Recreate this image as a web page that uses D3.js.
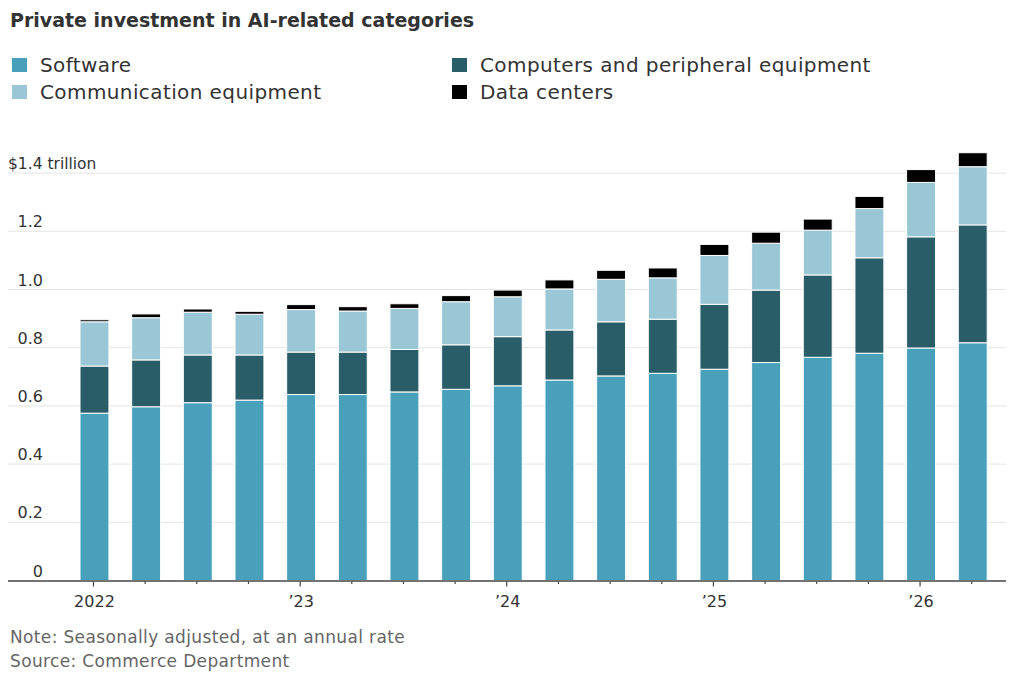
<!DOCTYPE html>
<html>
<head>
<meta charset="utf-8">
<script src="https://cdn.jsdelivr.net/npm/d3@7"></script>
<style>
  body { margin: 0; background: #fff; }
  svg { display: block; font-family: "DejaVu Sans", sans-serif; }
</style>
</head>
<body>
<div id="chart"></div>
<script>
// quarterly, 2022 Q1 .. 2026 Q2, trillions of dollars
const quarters = [
  "2022Q1", "2022Q2", "2022Q3", "2022Q4",
  "2023Q1", "2023Q2", "2023Q3", "2023Q4",
  "2024Q1", "2024Q2", "2024Q3", "2024Q4",
  "2025Q1", "2025Q2", "2025Q3", "2025Q4",
  "2026Q1", "2026Q2"
];
const software = [0.575, 0.597, 0.611, 0.620, 0.639, 0.639, 0.648, 0.657, 0.669, 0.689, 0.703, 0.712, 0.726, 0.749, 0.767, 0.781, 0.799, 0.817];
const computers = [0.162, 0.161, 0.164, 0.155, 0.146, 0.146, 0.146, 0.153, 0.169, 0.172, 0.186, 0.186, 0.223, 0.249, 0.283, 0.328, 0.382, 0.405];
const communication = [0.152, 0.145, 0.147, 0.140, 0.146, 0.141, 0.141, 0.148, 0.137, 0.141, 0.146, 0.142, 0.168, 0.161, 0.154, 0.169, 0.187, 0.200];
const dataCenters = [0.007, 0.013, 0.011, 0.010, 0.017, 0.015, 0.016, 0.021, 0.023, 0.031, 0.031, 0.034, 0.038, 0.038, 0.038, 0.042, 0.044, 0.048];

const seriesKeys = ["software", "computers", "communication", "dataCenters"];
const seriesNames = {
  software: "Software",
  computers: "Computers and peripheral equipment",
  communication: "Communication equipment",
  dataCenters: "Data centers"
};
const colors = {
  software: "#48a0bb",
  computers: "#295e68",
  communication: "#99c7d5",
  dataCenters: "#000000"
};
const yTicks = [0, 0.2, 0.4, 0.6, 0.8, 1.0, 1.2, 1.4];
const yearLabels = { "2022Q1": "2022", "2023Q1": "\u201923", "2024Q1": "\u201924", "2025Q1": "\u201925", "2026Q1": "\u201926" };

const width = 1024, height = 687;

const rows = quarters.map((q, i) => ({
  quarter: q,
  software: software[i],
  computers: computers[i],
  communication: communication[i],
  dataCenters: dataCenters[i]
}));

const svg = d3.select("#chart").append("svg")
  .attr("width", width)
  .attr("height", height);

// Title
svg.append("text")
  .attr("x", 10)
  .attr("y", 27)
  .attr("fill", "#333")
  .attr("font-size", 19)
  .attr("font-weight", "bold")
  .text("Private investment in AI-related categories");

// Legend (two columns)
const legendItems = [
  { key: "software", x: 12, y: 58 },
  { key: "communication", x: 12, y: 85 },
  { key: "computers", x: 452, y: 58 },
  { key: "dataCenters", x: 452, y: 85 }
];
const legend = svg.append("g");
legendItems.forEach((d) => {
  legend.append("rect")
    .attr("x", d.x)
    .attr("y", d.y)
    .attr("width", 15)
    .attr("height", 14)
    .attr("fill", colors[d.key]);
  legend.append("text")
    .attr("x", d.x + 28)
    .attr("y", d.y + 14)
    .attr("fill", "#333")
    .attr("font-size", 20)
    .attr("letter-spacing", 0.4)
    .text(seriesNames[d.key]);
});

// Scales
const x = d3.scaleBand()
  .domain(quarters)
  .range([61.2, 1006])
  .paddingInner(0.44)
  .paddingOuter(0.364);

const y = d3.scaleLinear()
  .domain([0, 1.4])
  .range([580.5, 173.1]);

// Gridlines
svg.append("g")
  .selectAll("line")
  .data(yTicks.filter((t) => t > 0))
  .join("line")
  .attr("x1", 8)
  .attr("x2", 1006)
  .attr("y1", (d) => y(d))
  .attr("y2", (d) => y(d))
  .attr("stroke", "#e4e4e4")
  .attr("stroke-width", 1);

// Y labels
svg.append("g")
  .selectAll("text")
  .data(yTicks)
  .join("text")
  .attr("x", (d) => (d === 1.4 ? 8 : 43))
  .attr("y", (d) => y(d) - 4)
  .attr("text-anchor", (d) => (d === 1.4 ? "start" : "end"))
  .attr("fill", "#333")
  .attr("font-size", (d) => (d === 1.4 ? 15.5 : 16))
  .text((d) => (d === 1.4 ? "$1.4 trillion" : d === 0 ? "0" : d3.format(".1f")(d)));

// Stacked bars
const stacked = d3.stack().keys(seriesKeys)(rows);

svg.append("g")
  .selectAll("g")
  .data(stacked)
  .join("g")
  .attr("fill", (s) => colors[s.key])
  .selectAll("rect")
  .data((s) => s)
  .join("rect")
  .attr("x", (d) => x(d.data.quarter))
  .attr("width", x.bandwidth())
  .attr("y", (d) => y(d[1]))
  .attr("height", (d) => y(d[0]) - y(d[1]))
  .attr("stroke", "#fff")
  .attr("stroke-width", 1);

// X axis
const xAxisG = svg.append("g");
xAxisG.append("line")
  .attr("x1", 8)
  .attr("x2", 1006)
  .attr("y1", y(0) + 0.5)
  .attr("y2", y(0) + 0.5)
  .attr("stroke", "#444")
  .attr("stroke-width", 1.5);

xAxisG.selectAll(".tick")
  .data(quarters)
  .join("line")
  .attr("class", "tick")
  .attr("x1", (d) => x(d) + x.bandwidth() / 2 - 1)
  .attr("x2", (d) => x(d) + x.bandwidth() / 2 - 1)
  .attr("y1", y(0) + 1)
  .attr("y2", (d) => y(0) + (yearLabels[d] ? 6 : 3.5))
  .attr("stroke", "#444")
  .attr("stroke-width", 1.2);

xAxisG.selectAll(".xlabel")
  .data(quarters.filter((q) => yearLabels[q]))
  .join("text")
  .attr("class", "xlabel")
  .attr("x", (d) => x(d) + x.bandwidth() / 2)
  .attr("y", 607)
  .attr("text-anchor", "middle")
  .attr("fill", "#333")
  .attr("font-size", 16)
  .text((d) => yearLabels[d]);

// Footer
svg.append("text")
  .attr("x", 10)
  .attr("y", 643)
  .attr("fill", "#666")
  .attr("font-size", 17)
  .attr("letter-spacing", 0.35)
  .text("Note: Seasonally adjusted, at an annual rate");

svg.append("text")
  .attr("x", 10)
  .attr("y", 667)
  .attr("fill", "#666")
  .attr("font-size", 17)
  .attr("letter-spacing", 0.35)
  .text("Source: Commerce Department");
</script>
</body>
</html>
